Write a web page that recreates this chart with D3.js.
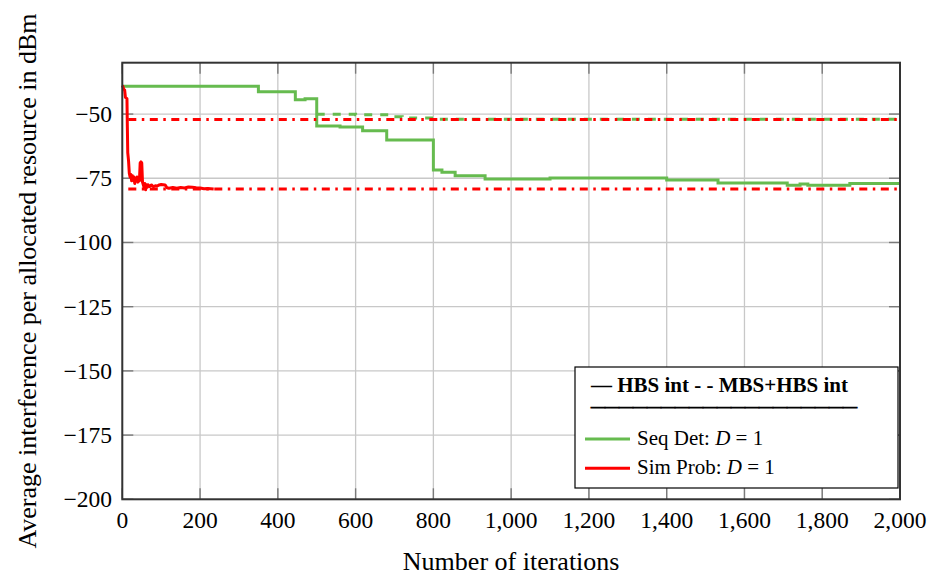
<!DOCTYPE html>
<html>
<head>
<meta charset="utf-8">
<script src="https://cdn.jsdelivr.net/npm/d3@7"></script>
<style>
  html, body { margin: 0; padding: 0; background: #fff; }
  svg { display: block; }
  text { font-family: "Liberation Serif", "Times New Roman", serif; fill: #000; }
</style>
</head>
<body>
<svg id="chart" width="929" height="576"></svg>
<script>
// ---------------- data ----------------
const xTicks = [0, 200, 400, 600, 800, 1000, 1200, 1400, 1600, 1800, 2000];
const yTicks = [-200, -175, -150, -125, -100, -75, -50];

// Seq Det, HBS int (solid, step)
const seqDetIter = [0, 350, 445, 470, 500, 560, 618, 680, 800, 822, 856, 933, 1100, 1400, 1532, 1710, 1743, 1763, 1871, 2000];
const seqDetHBS  = [-39.2, -41.3, -44.4, -44.0, -54.6, -55.0, -56.5, -60.1, -71.8, -72.7, -74.0, -75.3, -74.9, -75.7, -76.8, -77.7, -77.2, -77.7, -77.0, -77.0];

// Seq Det, MBS+HBS int (dashed, step)
const seqDetMbsIter = [500, 600, 690, 720, 800, 2000];
const seqDetMBS     = [-50.1, -50.3, -51.0, -51.5, -52.0, -52.0];

// Sim Prob, HBS int (solid)
const simProbIter = [0, 2, 4, 6, 8, 12, 13, 14, 16, 18, 20, 22, 24, 26, 28, 30, 32, 34, 36, 38, 40, 42, 44, 46, 48, 50, 52, 54, 56, 58, 60, 62, 64, 66, 70, 75, 80, 85, 90, 95, 100, 110, 115, 120, 130, 140, 150, 160, 170, 180, 190, 200, 210, 220, 235];
const simProbHBS  = [-38.8, -39.5, -40.4, -40.6, -43.5, -44.0, -55.0, -65.0, -68.0, -73.0, -74.5, -73.5, -76.0, -74.0, -75.5, -74.5, -77.0, -75.0, -76.0, -74.5, -76.5, -75.0, -76.0, -69.0, -68.6, -69.0, -76.5, -77.5, -78.5, -77.0, -79.5, -77.5, -78.5, -77.5, -78.2, -77.6, -78.3, -77.9, -78.0, -77.6, -77.4, -77.6, -78.7, -78.9, -78.6, -78.9, -78.6, -78.8, -78.4, -78.5, -78.7, -78.8, -79.1, -79.0, -79.2];

// Sim Prob, MBS+HBS int and converged level (dash-dotted)
const simProbMbsIter = [0, 2000];
const simProbMBS     = [-52.1, -52.1];
const simProbConvIter = [0, 2000];
const simProbConv     = [-79.2, -79.2];

const legendHeader = "\u2014 HBS int - - MBS+HBS int";
const legendRule = "\u2014".repeat(19);
const seriesNames = ["Seq Det: ", "Sim Prob: "];
const xLabel = "Number of iterations";
const yLabel = "Average interference per allocated resource in dBm";

// ---------------- drawing ----------------
const svg = d3.select("#chart");
const L = 122.3, R = 900, T = 62.7, B = 499.3;
const x = d3.scaleLinear().domain([0, 2000]).range([L, R]);
const y = d3.scaleLinear().domain([-200, -30]).range([B, T]);

const GREEN = "#66bb4f", RED = "#ff0000";
const fmtX = d3.format(",");
const fmtY = d3.format("");

// grid
const grid = svg.append("g");
grid.selectAll("line.gx").data(xTicks).join("line")
  .attr("x1", d => x(d)).attr("x2", d => x(d)).attr("y1", T).attr("y2", B)
  .attr("stroke", "#c8c8c8").attr("stroke-width", 1.3);
grid.selectAll("line.gy").data(yTicks).join("line")
  .attr("x1", L).attr("x2", R).attr("y1", d => y(d)).attr("y2", d => y(d))
  .attr("stroke", "#c8c8c8").attr("stroke-width", 1.3);

// ticks (inside, all four sides)
const TL = 11;
const tk = svg.append("g").attr("stroke", "#7a7a7a").attr("stroke-width", 1.4);
xTicks.forEach(d => {
  tk.append("line").attr("x1", x(d)).attr("x2", x(d)).attr("y1", B).attr("y2", B - TL);
  tk.append("line").attr("x1", x(d)).attr("x2", x(d)).attr("y1", T).attr("y2", T + TL);
});
yTicks.forEach(d => {
  tk.append("line").attr("x1", L).attr("x2", L + TL).attr("y1", y(d)).attr("y2", y(d));
  tk.append("line").attr("x1", R).attr("x2", R - TL).attr("y1", y(d)).attr("y2", y(d));
});

// series
const stepLine = d3.line().x(d => x(d[0])).y(d => y(d[1])).curve(d3.curveStepAfter);
const plainLine = d3.line().x(d => x(d[0])).y(d => y(d[1]));
const zip = (a, b) => a.map((v, i) => [v, b[i]]);

const plot = svg.append("g");
plot.append("path").datum(zip(seqDetIter, seqDetHBS)).attr("d", stepLine)
  .attr("fill", "none").attr("stroke", GREEN).attr("stroke-width", 3);
plot.append("path").datum(zip(seqDetMbsIter, seqDetMBS)).attr("d", stepLine)
  .attr("fill", "none").attr("stroke", GREEN).attr("stroke-width", 3)
  .attr("stroke-dasharray", "8,8");
plot.append("path").datum(zip(simProbMbsIter, simProbMBS)).attr("d", plainLine)
  .attr("fill", "none").attr("stroke", RED).attr("stroke-width", 3)
  .attr("stroke-dasharray", "8,5.5,2.5,5.5").attr("stroke-dashoffset", -6);
plot.append("path").datum(zip(simProbConvIter, simProbConv)).attr("d", plainLine)
  .attr("fill", "none").attr("stroke", RED).attr("stroke-width", 3)
  .attr("stroke-dasharray", "8,5.5,2.5,5.5").attr("stroke-dashoffset", -6);
plot.append("path").datum(zip(simProbIter, simProbHBS)).attr("d", plainLine)
  .attr("fill", "none").attr("stroke", RED).attr("stroke-width", 3)
  .attr("stroke-linejoin", "round");

// frame
svg.append("rect").attr("x", L).attr("y", T).attr("width", R - L).attr("height", B - T)
  .attr("fill", "none").attr("stroke", "#333").attr("stroke-width", 2);

// tick labels
svg.append("g").selectAll("text").data(xTicks).join("text")
  .attr("x", d => x(d)).attr("y", 528).attr("text-anchor", "middle")
  .attr("font-size", 23.5).text(d => fmtX(d));
svg.append("g").selectAll("text").data(yTicks).join("text")
  .attr("x", 112).attr("y", d => y(d) + 8).attr("text-anchor", "end")
  .attr("font-size", 23.5).text(d => fmtY(d));

// axis labels
svg.append("text").attr("x", (L + R) / 2).attr("y", 570).attr("text-anchor", "middle")
  .attr("font-size", 26).text(xLabel);
svg.append("text").attr("transform", `translate(36,${(T + B) / 2}) rotate(-90)`)
  .attr("text-anchor", "middle").attr("font-size", 26).attr("fill", "#222").text(yLabel);

// legend
const lg = svg.append("g");
lg.append("rect").attr("x", 575).attr("y", 367).attr("width", 323).attr("height", 121)
  .attr("fill", "#fff").attr("stroke", "#000").attr("stroke-width", 1.2);
lg.append("text").attr("x", 591).attr("y", 392).attr("font-size", 21).attr("font-weight", "bold")
  .text(legendHeader);
lg.append("text").attr("x", 591).attr("y", 411).attr("font-size", 14).attr("font-weight", "bold")
  .attr("stroke", "#000").attr("stroke-width", 0.9)
  .text(legendRule);
const colors = [GREEN, RED];
const rowsY = [439, 468.3];
seriesNames.forEach((name, i) => {
  lg.append("line").attr("x1", 585).attr("x2", 630).attr("y1", rowsY[i]).attr("y2", rowsY[i])
    .attr("stroke", colors[i]).attr("stroke-width", 3);
  const t = lg.append("text").attr("x", 637).attr("y", rowsY[i] + 6).attr("font-size", 21);
  t.append("tspan").text(name);
  t.append("tspan").attr("font-style", "italic").text("D");
  t.append("tspan").text(" = 1");
});
</script>
</body>
</html>
